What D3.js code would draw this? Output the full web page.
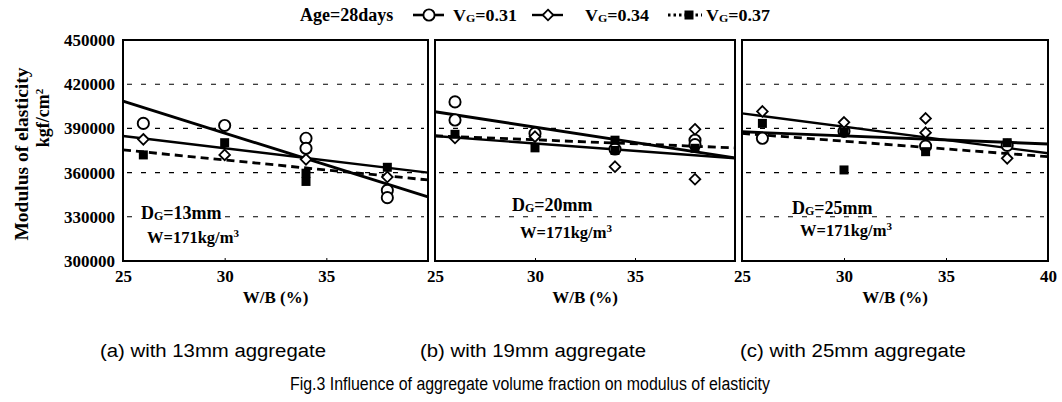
<!DOCTYPE html>
<html>
<head>
<meta charset="utf-8">
<script src="https://cdn.jsdelivr.net/npm/d3@7"></script>
<style>
  body { margin: 0; background: #fff; }
  svg { display: block; }
</style>
</head>
<body>
<div id="chart"></div>
<script>
// Tick values
const wbTicksAB = [25, 30, 35];
const wbTicksC = [25, 30, 35, 40];
const eTicks = [300000, 330000, 360000, 390000, 420000, 450000];
const gridTicks = [330000, 360000, 390000, 420000];

const dgLabels = ["13mm", "20mm", "25mm"];
const captions = ["(a) with 13mm aggregate", "(b) with 19mm aggregate", "(c) with 25mm aggregate"];
const figTitle = "Fig.3 Influence of aggregate volume fraction on modulus of elasticity";

const vg031_a = [[26, 393400], [30, 392000], [34, 383300], [34, 376500], [38, 348000], [38, 343000]];
const vg034_a = [[26, 382600], [30, 372000], [34, 369000], [38, 357000]];
const vg037_a = [[26, 372000], [30, 380300], [34, 359600], [34, 354000], [38, 363600]];

const vg031_b = [[26, 408000], [26, 395700], [30, 386600], [34, 376000], [38, 382000], [38, 379000]];
const vg034_b = [[26, 383500], [30, 384400], [34, 364000], [38, 389400], [38, 355500]];
const vg037_b = [[26, 386000], [30, 376800], [34, 382000], [34, 375000], [38, 376500]];

const vg031_c = [[26, 383300], [30, 388000], [34, 378000], [38, 378500]];
const vg034_c = [[26, 401500], [30, 394100], [34, 396800], [34, 387100], [38, 369700]];
const vg037_c = [[26, 393400], [30, 387700], [30, 361800], [34, 374200], [38, 380300]];

// regression lines, end values at W/B = 25 and 40
const fit031_a = [[25, 408500], [40, 343500]];
const fit034_a = [[25, 384800], [40, 360000]];
const fit037_a = [[25, 375400], [40, 355000]];

const fit031_b = [[25, 401300], [40, 370000]];
const fit034_b = [[25, 384800], [40, 369700]];
const fit037_b = [[25, 385000], [40, 376800]];

const fit031_c = [[25, 387700], [40, 379400]];
const fit034_c = [[25, 400200], [40, 373100]];
const fit037_c = [[25, 386600], [40, 370800]];

const panels = [
  { left: 123, right: 428, ticks: wbTicksAB, dg: dgLabels[0], s031: vg031_a, s034: vg034_a, s037: vg037_a,
    f031: fit031_a, f034: fit034_a, f037: fit037_a, dgPos: [141, 219], wPos: [147, 243], dgBg: true, cap: captions[0], capX: 100 },
  { left: 435, right: 735, ticks: wbTicksAB, dg: dgLabels[1], s031: vg031_b, s034: vg034_b, s037: vg037_b,
    f031: fit031_b, f034: fit034_b, f037: fit037_b, dgPos: [512, 211], wPos: [520, 238], dgBg: false, cap: captions[1], capX: 420 },
  { left: 742, right: 1048, ticks: wbTicksC, dg: dgLabels[2], s031: vg031_c, s034: vg034_c, s037: vg037_c,
    f031: fit031_c, f034: fit034_c, f037: fit037_c, dgPos: [792, 214], wPos: [800, 236], dgBg: false, cap: captions[2], capX: 740 }
];

const serif = "'Liberation Serif','Times New Roman',serif";
const sans = "'Liberation Sans',Arial,sans-serif";

const svg = d3.select("#chart")
  .append("svg")
    .attr("width", 1062)
    .attr("height", 402);

const y = d3.scaleLinear()
  .domain([300000, 450000])
  .range([261, 40]);

const diamond = d3.symbol().type(d3.symbolDiamond2).size(72);

panels.forEach((p, i) => {
  const x = d3.scaleLinear().domain([25, 40]).range([p.left, p.right]);
  const g = svg.append("g");

  // dashed gridlines
  g.selectAll(".grid")
    .data(gridTicks)
    .join("line")
      .attr("x1", p.left + 4)
      .attr("x2", p.right - 4)
      .attr("y1", d => y(d))
      .attr("y2", d => y(d))
      .attr("stroke", "#000")
      .attr("stroke-width", 1.1)
      .attr("stroke-dasharray", "5,9");

  // x axis
  const xa = g.append("g")
    .attr("transform", `translate(0,${y(300000)})`)
    .call(d3.axisBottom(x).tickValues(p.ticks).tickSize(-3).tickPadding(9));
  xa.select(".domain").remove();
  xa.selectAll("line").attr("stroke", "#000");
  xa.selectAll("text")
    .attr("font-family", serif)
    .attr("font-weight", "bold")
    .attr("font-size", 17)
    .attr("fill", "#000");

  g.append("text")
    .attr("x", (p.left + p.right) / 2)
    .attr("y", 303)
    .attr("text-anchor", "middle")
    .attr("font-family", serif)
    .attr("font-weight", "bold")
    .attr("font-size", 17)
    .text("W/B (%)");

  // labels inside panel
  const dgText = g.append("text")
    .attr("x", p.dgPos[0])
    .attr("y", p.dgPos[1])
    .attr("font-family", serif)
    .attr("font-weight", "bold")
    .attr("font-size", 18);
  dgText.append("tspan").text("D");
  dgText.append("tspan").attr("font-size", 12).attr("dy", 1).text("G");
  dgText.append("tspan").attr("dy", -1).text("=" + p.dg);
  if (p.dgBg) {
    const bb = dgText.node().getBBox();
    g.insert("rect", () => dgText.node())
      .attr("x", bb.x - 2).attr("y", bb.y + 2)
      .attr("width", bb.width + 4).attr("height", bb.height - 4)
      .attr("fill", "#fff");
  }

  const wText = g.append("text")
    .attr("x", p.wPos[0])
    .attr("y", p.wPos[1])
    .attr("font-family", serif)
    .attr("font-weight", "bold")
    .attr("font-size", 16.5);
  wText.append("tspan").text("W=171kg/m");
  wText.append("tspan").attr("font-size", 11).attr("dy", -6).text("3");

  // regression lines
  const line = d3.line().x(d => x(d[0])).y(d => y(d[1]));
  g.append("path").datum(p.f031).attr("d", line)
    .attr("fill", "none").attr("stroke", "#000").attr("stroke-width", 2.9);
  g.append("path").datum(p.f034).attr("d", line)
    .attr("fill", "none").attr("stroke", "#000").attr("stroke-width", 2.4);
  g.append("path").datum(p.f037).attr("d", line)
    .attr("fill", "none").attr("stroke", "#000").attr("stroke-width", 2.8)
    .attr("stroke-dasharray", "8,5");

  // points
  g.selectAll(".c031")
    .data(p.s031)
    .join("circle")
      .attr("cx", d => x(d[0]))
      .attr("cy", d => y(d[1]))
      .attr("r", 5.6)
      .attr("fill", "#fff")
      .attr("stroke", "#000")
      .attr("stroke-width", 1.9);

  g.selectAll(".d034")
    .data(p.s034)
    .join("path")
      .attr("d", diamond)
      .attr("transform", d => `translate(${x(d[0])},${y(d[1])})`)
      .attr("fill", "#fff")
      .attr("stroke", "#000")
      .attr("stroke-width", 1.8);

  g.selectAll(".s037")
    .data(p.s037)
    .join("rect")
      .attr("x", d => x(d[0]) - 4.5)
      .attr("y", d => y(d[1]) - 4.5)
      .attr("width", 9)
      .attr("height", 9)
      .attr("fill", "#000");

  // frame
  g.append("rect")
    .attr("x", p.left)
    .attr("y", y(450000))
    .attr("width", p.right - p.left)
    .attr("height", y(300000) - y(450000))
    .attr("fill", "none")
    .attr("stroke", "#000")
    .attr("stroke-width", 2);

  // caption
  svg.append("text")
    .attr("x", p.capX)
    .attr("y", 357)
    .attr("font-family", sans)
    .attr("font-size", 18)
    .attr("textLength", 226)
    .attr("lengthAdjust", "spacingAndGlyphs")
    .text(p.cap);
});

// y axis (left of first panel)
const ya = svg.append("g")
  .attr("transform", `translate(${panels[0].left},0)`)
  .call(d3.axisLeft(y).tickValues(eTicks).tickSize(0).tickPadding(8).tickFormat(d3.format("d")));
ya.select(".domain").remove();
ya.selectAll("text")
  .attr("font-family", serif)
  .attr("font-weight", "bold")
  .attr("font-size", 17)
  .attr("fill", "#000");

svg.append("text")
  .attr("transform", "translate(28,154) rotate(-90)")
  .attr("text-anchor", "middle")
  .attr("font-family", serif)
  .attr("font-weight", "bold")
  .attr("font-size", 19)
  .attr("textLength", 173)
  .attr("lengthAdjust", "spacingAndGlyphs")
  .text("Modulus of elasticity");

const unit = svg.append("text")
  .attr("transform", "translate(49,118) rotate(-90)")
  .attr("text-anchor", "middle")
  .attr("font-family", serif)
  .attr("font-weight", "bold")
  .attr("font-size", 18);
unit.append("tspan").text("kgf/cm");
unit.append("tspan").attr("font-size", 11).attr("dy", -6).text("2");

// legend
const legY = 15;
const leg = svg.append("g").attr("font-family", serif).attr("font-weight", "bold").attr("font-size", 18);
leg.append("text").attr("x", 300).attr("y", legY + 6).text("Age=28days");

function vgLabel(xPos, val) {
  const t = leg.append("text").attr("x", xPos).attr("y", legY + 6).attr("font-size", 16.5)
    .attr("textLength", 64).attr("lengthAdjust", "spacingAndGlyphs");
  t.append("tspan").text("V");
  t.append("tspan").attr("font-size", 11).attr("dy", 1).text("G");
  t.append("tspan").attr("dy", -1).text("=" + val);
}

leg.append("line").attr("x1", 413).attr("x2", 444).attr("y1", legY).attr("y2", legY)
  .attr("stroke", "#000").attr("stroke-width", 2.6);
leg.append("circle").attr("cx", 429).attr("cy", legY).attr("r", 5.6)
  .attr("fill", "#fff").attr("stroke", "#000").attr("stroke-width", 1.9);
vgLabel(453, "0.31");

leg.append("line").attr("x1", 532).attr("x2", 563).attr("y1", legY).attr("y2", legY)
  .attr("stroke", "#000").attr("stroke-width", 2.4);
leg.append("path").attr("d", diamond).attr("transform", `translate(548,${legY})`)
  .attr("fill", "#fff").attr("stroke", "#000").attr("stroke-width", 1.8);
vgLabel(585, "0.34");

leg.append("line").attr("x1", 668).attr("x2", 702).attr("y1", legY).attr("y2", legY)
  .attr("stroke", "#000").attr("stroke-width", 2.8).attr("stroke-dasharray", "2.5,3");
leg.append("rect").attr("x", 684.5).attr("y", legY - 4.5).attr("width", 9).attr("height", 9).attr("fill", "#000");
vgLabel(706, "0.37");

// figure title
svg.append("text")
  .attr("x", 290)
  .attr("y", 390)
  .attr("font-family", sans)
  .attr("font-size", 18)
  .attr("textLength", 480)
  .attr("lengthAdjust", "spacingAndGlyphs")
  .text(figTitle);
</script>
</body>
</html>
